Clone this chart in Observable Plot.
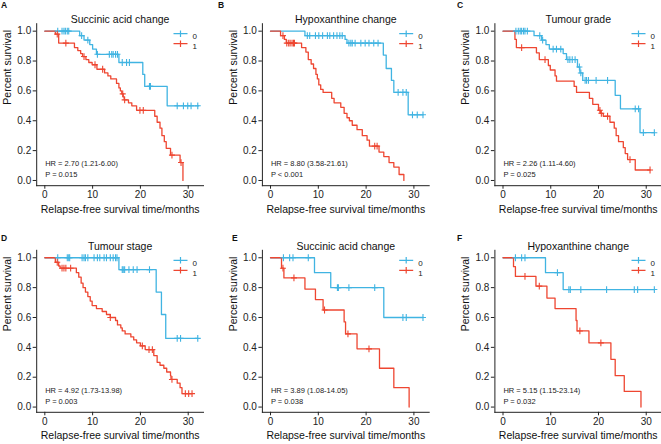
<!DOCTYPE html>
<html><head><meta charset="utf-8">
<script src="https://cdn.jsdelivr.net/npm/d3@7"></script>
<script src="https://cdn.jsdelivr.net/npm/@observablehq/plot@0.6"></script>
<style>
html,body{margin:0;padding:0;background:#fff;overflow:hidden}
#wrap{position:relative;width:661px;height:444px;font-family:"Liberation Sans",Arial,sans-serif;overflow:hidden}
.panel{position:absolute}
.panel svg{overflow:visible}
.letter{position:absolute;font-weight:bold;font-size:8.5px;line-height:8.5px;color:#111}
</style></head><body><div id="wrap"></div>
<script>
// ---------- data ----------
const letters = ["A","B","C","D","E","F"];
const titles = ["Succinic acid change","Hypoxanthine change","Tumour grade","Tumour stage","Succinic acid change","Hypoxanthine change"];
const hrTexts = ["HR = 2.70 (1.21-6.00)","HR = 8.80 (3.58-21.61)","HR = 2.26 (1.11-4.60)","HR = 4.92 (1.73-13.98)","HR = 3.89 (1.08-14.05)","HR = 5.15 (1.15-23.14)"];
const pTexts = ["P = 0.015","P < 0.001","P = 0.025","P = 0.003","P = 0.038","P = 0.032"];
const groupNames = ["0","1"];
const xLabel = "Relapse-free survival time/months";
const yLabel = "Percent survival";
const xTicks = [0,10,20,30];
const yTicks = [0,0.2,0.4,0.6,0.8,1.0];

// Panel A
const aT0 = [0,7.3,8.2,9.4,10.0,10.8,15.5,20.5,20.9,25.6,32.2];
const aS0 = [1,0.97,0.94,0.91,0.88,0.845,0.79,0.71,0.63,0.5,0.5];
const aC0 = [2.7,3.6,4.0,4.3,4.7,5.0,7.7,9.0,11.0,13.5,14.0,14.3,14.8,15.2,16.2,17.1,17.7,21.9,22.1,27.7,29.0,29.9,30.6,32.0];
const aT1 = [0,2.2,2.9,6.2,6.9,7.5,7.9,8.6,9.2,9.9,10.9,12.5,13.2,13.8,15.0,15.5,15.8,16.1,16.4,16.6,17.5,18.2,19.2,23.0,23.5,24.1,24.5,25.0,25.4,26.3,28.3,28.9];
const aS1 = [1,0.98,0.92,0.89,0.87,0.85,0.83,0.81,0.79,0.775,0.745,0.72,0.70,0.68,0.65,0.62,0.60,0.58,0.56,0.54,0.52,0.50,0.47,0.43,0.39,0.35,0.30,0.26,0.215,0.17,0.12,0.0];
const aC1 = [2.6,4.4,8.2,10.5,12.1,16.3,16.7,19.9,20.6,26.6,28.5];

// Panel B
const bT0 = [0,7.2,15.6,16.0,23.6,24.2,25.3,25.8,28.8,31.9];
const bS0 = [1,0.97,0.945,0.92,0.84,0.75,0.67,0.59,0.44,0.44];
const bC0 = [7.7,8.2,9.4,10.1,10.9,11.9,12.4,13.2,13.9,14.5,15.0,16.4,16.8,17.1,17.7,18.9,19.8,20.6,21.6,22.5,26.7,27.7,28.4,29.7,30.7,31.9];
const bT1 = [0,2.1,2.9,3.3,6.5,7.4,7.9,8.5,9.0,9.5,9.8,10.1,10.5,11.0,12.8,13.3,14.7,15.4,16.0,16.5,17.1,18.1,19.2,20.2,20.7,22.7,23.7,24.8,25.8,26.9,27.9];
const bS1 = [1,0.97,0.945,0.92,0.89,0.86,0.81,0.78,0.75,0.71,0.68,0.64,0.61,0.59,0.55,0.52,0.49,0.45,0.42,0.40,0.37,0.34,0.30,0.27,0.23,0.19,0.16,0.12,0.09,0.04,0.0];
const bC1 = [2.6,3.4,3.8,4.1,4.5,4.8,5.0,21.8,22.3];

// Panel C
const cT0 = [0,6.5,8.1,9.0,9.7,12.6,13.3,15.6,16.1,16.7,23.5,24.6,28.7,31.7];
const cS0 = [1,0.97,0.94,0.91,0.88,0.85,0.81,0.76,0.72,0.67,0.57,0.48,0.32,0.32];
const cC0 = [2.7,3.2,3.6,3.9,4.3,4.6,5.1,7.7,8.3,10.5,11.2,12.1,13.6,14.0,14.5,15.1,16.0,16.3,17.2,17.5,17.9,19.5,21.9,27.7,28.4,29.4,31.7];
const cT1 = [0,2.5,2.8,7.0,7.6,9.5,9.9,10.9,11.2,14.9,15.4,18.1,18.8,20.0,20.4,21.0,22.4,23.3,23.7,24.2,25.2,25.6,26.1,27.7,30.8];
const cS1 = [1,0.945,0.89,0.855,0.81,0.77,0.74,0.70,0.665,0.63,0.59,0.55,0.51,0.47,0.45,0.43,0.39,0.35,0.30,0.26,0.22,0.18,0.14,0.07,0.07];
const cC1 = [3.9,8.8,20.3,20.6,21.9,26.6,30.8];

// Panel D
const dT0 = [0,15.5,23.3,24.4,25.3,32.0];
const dS0 = [1,0.92,0.77,0.62,0.46,0.46];
const dC0 = [2.7,4.7,5.0,5.2,7.8,8.2,8.5,9.0,10.3,11.0,11.5,12.4,12.9,13.7,14.3,14.8,15.1,16.2,16.4,16.7,17.6,18.5,19.3,21.9,27.7,28.4,32.0];
const dT1 = [0,2.2,2.9,3.2,6.6,7.1,7.6,8.0,8.5,9.0,9.5,9.9,10.8,12.0,12.9,13.7,14.8,15.2,15.9,16.2,16.8,18.0,18.6,19.2,20.0,21.0,22.8,23.5,24.1,24.9,25.5,26.3,26.4,27.7,28.3,28.7,30.8];
const dS1 = [1,0.97,0.945,0.93,0.90,0.87,0.83,0.80,0.77,0.74,0.71,0.68,0.66,0.64,0.62,0.60,0.58,0.55,0.53,0.51,0.49,0.47,0.45,0.43,0.41,0.385,0.345,0.30,0.28,0.26,0.235,0.21,0.185,0.16,0.13,0.09,0.09];
const dC1 = [2.6,3.6,4.0,4.4,5.4,13.7,20.4,21.8,22.5,26.6,29.4,30.1,30.8];

// Panel E
const eT0 = [0,9.2,12.6,23.7,31.9];
const eS0 = [1,0.9,0.8,0.6,0.6];
const eC0 = [2.7,4.0,4.7,7.9,14.0,14.2,16.4,21.8,27.7,28.4,31.9];
const eT1 = [0,2.3,2.8,7.2,9.4,11.0,15.4,15.7,18.1,22.8,25.8,29.0];
const eS1 = [1,0.93,0.865,0.79,0.72,0.65,0.57,0.49,0.39,0.26,0.13,0.0];
const eC1 = [2.6,4.9,11.3,16.2,20.6];

// Panel F
const fT0 = [0,8.9,12.6,31.7];
const fS0 = [1,0.9,0.787,0.787];
const fC0 = [2.6,3.9,4.6,11.4,13.8,14.1,16.3,21.7,27.5,28.2,31.7];
const fT1 = [0,2.2,2.6,6.9,9.2,10.9,15.3,15.5,18.0,22.6,23.5,25.4,28.9];
const fS1 = [1,0.94,0.875,0.81,0.73,0.66,0.58,0.51,0.43,0.32,0.21,0.105,0.0];
const fC1 = [4.6,7.6,16.1,20.5];

const panelsT = [[aT0,aT1],[bT0,bT1],[cT0,cT1],[dT0,dT1],[eT0,eT1],[fT0,fT1]];
const panelsS = [[aS0,aS1],[bS0,bS1],[cS0,cS1],[dS0,dS1],[eS0,eS1],[fS0,fS1]];
const panelsC = [[aC0,aC1],[bC0,bC1],[cC0,cC1],[dC0,dC1],[eC0,eC1],[fC0,fC1]];

// ---------- layout / style ----------
const colors = ["#40B4E2","#EE4631"];
const FONT = "'Liberation Sans', Arial, sans-serif";
const svgLeft = [0,215,435], svgTop = [0,220];
const widths = [215,220,226], heights = [220,224];
const mLeft = [36.2,46.9,59.4], mRight = [12,6.3,0];
const mTop = [23.2,29.8], mBottom = [34.8,32.2];
const letterPos = [[1,0.5],[218,0.5],[457,0.5],[1,233.5],[232,233.5],[457,233.5]];

const plusSym = {draw(ctx){ctx.moveTo(-3,0);ctx.lineTo(3,0);ctx.moveTo(0,-3.4);ctx.lineTo(0,3.4);}};
const keySym = {draw(ctx){ctx.moveTo(-7,0);ctx.lineTo(7,0);ctx.moveTo(0,-3.2);ctx.lineTo(0,3.2);}};

function survAt(T,S,t){let s=1;for(let k=0;k<T.length;k++){if(T[k]<=t) s=S[k];}return s;}

const wrap = document.getElementById("wrap");
for (let i = 0; i < 6; i++) {
  const col = i % 3, row = Math.floor(i / 3);
  const steps = [], cens = [];
  for (let g = 0; g < 2; g++) {
    const T = panelsT[i][g], S = panelsS[i][g];
    T.forEach((t,k) => steps.push({t, s: S[k], g: groupNames[g]}));
    panelsC[i][g].forEach(t => cens.push({t, s: survAt(T,S,t), g: groupNames[g]}));
  }
  const svg = Plot.plot({
    width: widths[col], height: heights[row],
    marginLeft: mLeft[col], marginRight: mRight[col], marginTop: mTop[row], marginBottom: mBottom[row],
    style: {fontFamily: FONT, fontSize: "10px", color: "#222", background: "transparent", overflow: "visible"},
    x: {domain: [-1.7, 33.2], ticks: xTicks, tickFormat: d => String(d), tickSize: 3.5, tickPadding: 2, line: true, label: null},
    y: {domain: [-0.035, 1.05], ticks: yTicks, tickFormat: d3.format(".1f"), tickSize: 3.5, tickPadding: 2, line: true, label: null},
    color: {domain: groupNames, range: colors},
    marks: [
      Plot.line(steps, {x: "t", y: "s", z: "g", stroke: "g", curve: "step-after", strokeWidth: 1.3}),
      Plot.dot(cens, {x: "t", y: "s", stroke: "g", fill: "none", symbol: plusSym, strokeWidth: 1.1}),
      Plot.text([titles[i]], {frameAnchor: "top", dy: -8, fontSize: 10.5, fill: "#111"}),
      Plot.text([xLabel], {frameAnchor: "bottom", dy: 27, fontSize: 10.5, fill: "#111"}),
      Plot.text([yLabel], {frameAnchor: "left", dx: -29, rotate: -90, fontSize: 10.5, fill: "#111"}),
      Plot.text([hrTexts[i]], {frameAnchor: "bottom-left", dx: 8.5, dy: -19.5, fontSize: 7.5, textAnchor: "start", fill: "#222"}),
      Plot.text([pTexts[i]], {frameAnchor: "bottom-left", dx: 8.5, dy: -8.5, fontSize: 7.5, textAnchor: "start", fill: "#222"}),
      groupNames.map((g, k) => [
        Plot.dot([g], {frameAnchor: "top-right", dx: -23, dy: 10 + 10 * k, symbol: keySym, stroke: colors[k], fill: "none", strokeWidth: 1.2}),
        Plot.text([g], {frameAnchor: "top-right", dx: -11, dy: 10 + 10 * k, textAnchor: "start", fontSize: 8, fill: "#222"})
      ])
    ]
  });
  const div = document.createElement("div");
  div.className = "panel";
  div.style.left = svgLeft[col] + "px";
  div.style.top = svgTop[row] + "px";
  div.appendChild(svg);
  wrap.appendChild(div);
  const lt = document.createElement("div");
  lt.className = "letter";
  lt.textContent = letters[i];
  lt.style.left = letterPos[i][0] + "px";
  lt.style.top = letterPos[i][1] + "px";
  wrap.appendChild(lt);
}
</script></body></html>
